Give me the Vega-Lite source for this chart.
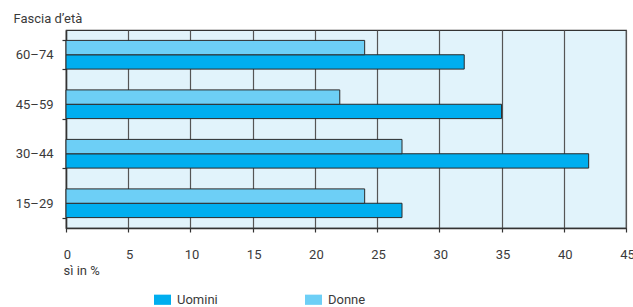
{
  "$schema": "https://vega.github.io/schema/vega-lite/v6.json",
  "width": 560,
  "height": 198,
  "autosize": {"type": "none"},
  "padding": {"left": 66, "top": 30, "right": 7, "bottom": 79},
  "background": "white",
  "config": {
    "font": "Roboto",
    "view": {"fill": "#e1f3fb", "stroke": "#333333", "strokeWidth": 1.2},
    "text": {"font": "Roboto"}
  },
  "data": {
    "values": [
      {"eta": "60–74", "sesso": "Uomini", "valore": 32},
      {"eta": "60–74", "sesso": "Donne", "valore": 24},
      {"eta": "45–59", "sesso": "Uomini", "valore": 35},
      {"eta": "45–59", "sesso": "Donne", "valore": 22},
      {"eta": "30–44", "sesso": "Uomini", "valore": 42},
      {"eta": "30–44", "sesso": "Donne", "valore": 27},
      {"eta": "15–29", "sesso": "Uomini", "valore": 27},
      {"eta": "15–29", "sesso": "Donne", "valore": 24}
    ]
  },
  "mark": {"type": "bar", "stroke": "#2a2a2a", "strokeWidth": 1},
  "encoding": {
    "y": {
      "field": "eta",
      "type": "nominal",
      "sort": ["60–74", "45–59", "30–44", "15–29"],
      "scale": {"paddingInner": 0.42, "paddingOuter": 0.21},
      "axis": {
        "title": "Fascia d’età",
        "titleAngle": 0,
        "titleAlign": "left",
        "titleBaseline": "alphabetic",
        "titleX": -53,
        "titleY": -8,
        "titleFont": "Roboto",
        "titleFontSize": 13,
        "titleFontWeight": "normal",
        "titleColor": "#3a3a3a",
        "labelFont": "Roboto",
        "labelFontSize": 13,
        "labelColor": "#3a3a3a",
        "labelPadding": 9,
        "tickBand": "extent",
        "tickSize": 4,
        "tickColor": "#333333",
        "tickWidth": 1.2,
        "domainColor": "#333333",
        "domainWidth": 1.5,
        "grid": false
      }
    },
    "yOffset": {
      "field": "sesso",
      "type": "nominal",
      "sort": ["Donne", "Uomini"],
      "scale": {"paddingInner": 0, "paddingOuter": 0}
    },
    "x": {
      "field": "valore",
      "type": "quantitative",
      "scale": {"domain": [0, 45], "nice": false},
      "axis": {
        "values": [0, 5, 10, 15, 20, 25, 30, 35, 40, 45],
        "title": "sì in %",
        "titleAlign": "left",
        "titleBaseline": "alphabetic",
        "titleX": -3,
        "titleY": 46,
        "titleFont": "Roboto",
        "titleFontSize": 13,
        "titleFontWeight": "normal",
        "titleColor": "#3a3a3a",
        "labelFont": "Roboto",
        "labelFontSize": 13,
        "labelColor": "#3a3a3a",
        "labelPadding": 16,
        "labelOffset": 1,
        "labelFlush": false,
        "tickSize": 4,
        "tickColor": "#333333",
        "tickWidth": 1.2,
        "domainColor": "#333333",
        "domainWidth": 1.5,
        "grid": true,
        "gridColor": "#555555",
        "gridWidth": 1.2,
        "gridOpacity": 1
      }
    },
    "color": {
      "field": "sesso",
      "type": "nominal",
      "sort": ["Uomini", "Donne"],
      "scale": {"domain": ["Uomini", "Donne"], "range": ["#00aeef", "#6dcff6"]},
      "legend": {
        "title": null,
        "orient": "none",
        "legendX": 88,
        "legendY": 261,
        "direction": "horizontal",
        "columns": 2,
        "columnPadding": 87,
        "symbolType": "M-1,-0.6H1V0.6H-1Z",
        "symbolSize": 289,
        "symbolStrokeWidth": 0,
        "labelOffset": 6,
        "labelFont": "Roboto",
        "labelFontSize": 13,
        "labelColor": "#3a3a3a"
      }
    }
  }
}
